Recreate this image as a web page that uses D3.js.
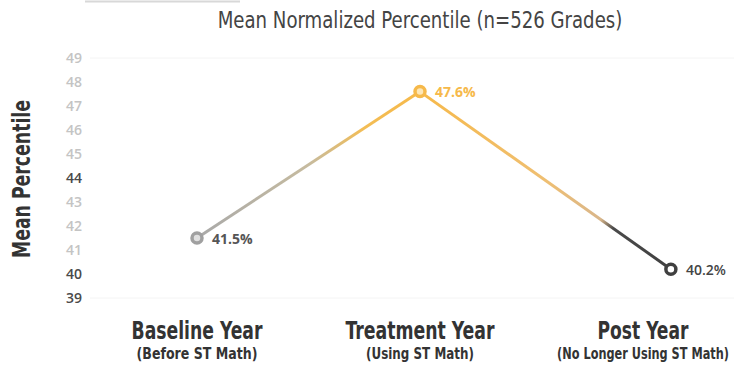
<!DOCTYPE html>
<html>
<head>
<meta charset="utf-8">
<script src="https://cdn.jsdelivr.net/npm/d3@7"></script>
<style>
  body { margin: 0; background: #fff; }
  svg { display: block; }
  .cond { font-family: "DejaVu Sans Condensed", "Roboto", sans-serif; }
</style>
</head>
<body>
<svg width="734" height="367"></svg>
<script>
// chart data
const categories = ['Baseline Year', 'Treatment Year', 'Post Year']
const subLabels = ['(Before ST Math)', '(Using ST Math)', '(No Longer Using ST Math)']
const values = [41.5, 47.6, 40.2]
const pointPos = [0, 1, 2.125]
const yTicks = [39, 40, 41, 42, 43, 44, 45, 46, 47, 48, 49]
const darkTicks = [39, 40, 44]

// widths the condensed labels take in the picture
const catWidths = [131, 149, 91]
const subWidths = [121, 108, 172]

const svg = d3.select('svg')

const x = d3.scaleLinear().domain([0, 2]).range([197, 643])
const y = d3.scaleLinear().domain([39, 49]).range([298, 58])

// squeeze a text horizontally so it spans w pixels, centred on cx
function squeeze(node, cx, cy, w) {
  const natural = node.getComputedTextLength()
  const s = Math.min(1, w / natural)
  d3.select(node).attr('transform', `translate(${cx},${cy}) scale(${s},1)`)
}

const defs = svg.append('defs')
const g1 = defs.append('linearGradient')
  .attr('id', 'seg1').attr('gradientUnits', 'userSpaceOnUse')
  .attr('x1', x(pointPos[0])).attr('y1', y(values[0]))
  .attr('x2', x(pointPos[1])).attr('y2', y(values[1]))
g1.append('stop').attr('offset', 0).attr('stop-color', '#a9a9a9')
g1.append('stop').attr('offset', 0.5).attr('stop-color', '#c6bb9f')
g1.append('stop').attr('offset', 0.75).attr('stop-color', '#f3bd55')
g1.append('stop').attr('offset', 1).attr('stop-color', '#f6b94a')

const g2 = defs.append('linearGradient')
  .attr('id', 'seg2').attr('gradientUnits', 'userSpaceOnUse')
  .attr('x1', x(pointPos[1])).attr('y1', y(values[1]))
  .attr('x2', x(pointPos[2])).attr('y2', y(values[2]))
g2.append('stop').attr('offset', 0).attr('stop-color', '#f6b94a')
g2.append('stop').attr('offset', 0.5).attr('stop-color', '#efbf72')
g2.append('stop').attr('offset', 0.72).attr('stop-color', '#d9b68a')
g2.append('stop').attr('offset', 0.77).attr('stop-color', '#4a4a4a')
g2.append('stop').attr('offset', 1).attr('stop-color', '#404040')

// faint artifact line at top
svg.append('line')
  .attr('x1', 85).attr('x2', 240).attr('y1', 1.5).attr('y2', 1.5)
  .attr('stroke', '#d8d8d8').attr('stroke-width', 2)

// title
svg.append('text')
  .attr('class', 'cond')
  .attr('text-anchor', 'middle')
  .attr('font-size', 23)
  .attr('fill', '#444')
  .text('Mean Normalized Percentile (n=526 Grades)')
  .each(function () { squeeze(this, 420, 28, 405) })

// faint grid
svg.selectAll('.grid')
  .data([39, 49])
  .enter()
  .append('line')
  .attr('x1', 90).attr('x2', 734)
  .attr('y1', d => y(d)).attr('y2', d => y(d))
  .attr('stroke', '#f4f4f4')

// y ticks
svg.selectAll('.tick')
  .data(yTicks)
  .enter()
  .append('text')
  .attr('x', 82)
  .attr('y', d => y(d))
  .attr('dy', '0.36em')
  .attr('text-anchor', 'end')
  .attr('font-family', 'Open Sans, sans-serif')
  .attr('font-weight', 600)
  .attr('font-size', 14)
  .attr('fill', d => darkTicks.includes(d) ? '#4a4a4a' : '#c4c4c4')
  .text(d => d)

// y title
svg.append('text')
  .attr('class', 'cond')
  .attr('transform', 'translate(30,179) rotate(-90)')
  .attr('text-anchor', 'middle')
  .attr('font-size', 25)
  .attr('font-weight', 'bold')
  .attr('fill', '#333')
  .attr('textLength', 158)
  .attr('lengthAdjust', 'spacingAndGlyphs')
  .text('Mean Percentile')

// line segments
const pts = values.map((v, i) => [x(pointPos[i]), y(v)])
svg.append('line')
  .attr('x1', pts[0][0]).attr('y1', pts[0][1])
  .attr('x2', pts[1][0]).attr('y2', pts[1][1])
  .attr('stroke', 'url(#seg1)').attr('stroke-width', 3)
svg.append('line')
  .attr('x1', pts[1][0]).attr('y1', pts[1][1])
  .attr('x2', pts[2][0]).attr('y2', pts[2][1])
  .attr('stroke', 'url(#seg2)').attr('stroke-width', 3)

// markers
const markerStroke = ['#a0a0a0', '#f6b94a', '#404040']
const markerFill = ['#e0e0e0', '#fde7b8', '#fff']
svg.selectAll('.pt')
  .data(values)
  .enter()
  .append('circle')
  .attr('cx', (d, i) => x(pointPos[i]))
  .attr('cy', d => y(d))
  .attr('r', 5)
  .attr('fill', (d, i) => markerFill[i])
  .attr('stroke', (d, i) => markerStroke[i])
  .attr('stroke-width', 3.5)

// value labels
const labelColor = ['#555', '#f6b94a', '#444']
const labelWeight = [700, 700, 600]
svg.selectAll('.val')
  .data(values)
  .enter()
  .append('text')
  .attr('x', (d, i) => x(pointPos[i]) + 15)
  .attr('y', d => y(d))
  .attr('dy', '0.4em')
  .attr('font-family', 'Open Sans, sans-serif')
  .attr('font-size', 14)
  .attr('font-weight', (d, i) => labelWeight[i])
  .attr('fill', (d, i) => labelColor[i])
  .text(d => d.toFixed(1) + '%')

// category labels
svg.selectAll('.cat')
  .data(categories)
  .enter()
  .append('text')
  .attr('class', 'cond')
  .attr('text-anchor', 'middle')
  .attr('font-size', 25)
  .attr('font-weight', 'bold')
  .attr('fill', '#333')
  .text(d => d)
  .each(function (d, i) { squeeze(this, x(i), 339, catWidths[i]) })

svg.selectAll('.sub')
  .data(subLabels)
  .enter()
  .append('text')
  .attr('class', 'cond')
  .attr('text-anchor', 'middle')
  .attr('font-size', 16)
  .attr('font-weight', 'bold')
  .attr('fill', '#333')
  .text(d => d)
  .each(function (d, i) { squeeze(this, x(i), 359, subWidths[i]) })
</script>
</body>
</html>
